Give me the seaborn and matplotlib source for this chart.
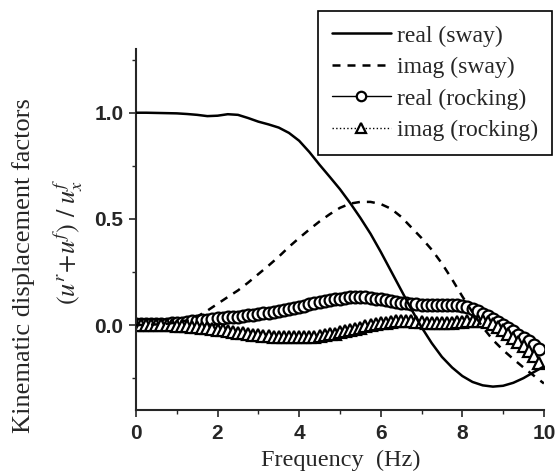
import numpy as np
import pandas as pd
import seaborn as sns
import matplotlib.pyplot as plt

# frequency grids (Hz)
freq_sway = [i * 0.25 for i in range(41)]
freq_rock = [i * 0.125 for i in range(80)]

# sway components
real_sway = [1.000, 1.000, 0.999, 0.998, 0.997, 0.994, 0.990, 0.984, 0.986, 0.993,
             0.990, 0.975, 0.958, 0.945, 0.930, 0.905, 0.868, 0.815, 0.755, 0.698,
             0.640, 0.575, 0.505, 0.430, 0.345, 0.255, 0.165, 0.075, -0.010, -0.085,
             -0.150, -0.200, -0.240, -0.268, -0.284, -0.290, -0.286, -0.272, -0.250, -0.222,
             -0.195]
imag_sway = [0.000, 0.001, 0.003, 0.006, 0.012, 0.022, 0.040, 0.068, 0.100, 0.132,
             0.163, 0.200, 0.240, 0.280, 0.322, 0.368, 0.410, 0.450, 0.488, 0.522,
             0.552, 0.572, 0.580, 0.580, 0.570, 0.548, 0.510, 0.460, 0.410, 0.355,
             0.290, 0.215, 0.135, 0.060, -0.010, -0.070, -0.118, -0.160, -0.200, -0.238,
             -0.275]

# rocking components
real_rock = [0.005, 0.005, 0.005, 0.005, 0.006, 0.006, 0.007, 0.008, 0.010, 0.012,
             0.014, 0.017, 0.020, 0.023, 0.026, 0.029, 0.032, 0.034, 0.036, 0.038,
             0.040, 0.043, 0.046, 0.049, 0.052, 0.055, 0.058, 0.062, 0.066, 0.070,
             0.075, 0.080, 0.085, 0.091, 0.097, 0.103, 0.108, 0.113, 0.118, 0.122,
             0.125, 0.128, 0.130, 0.131, 0.131, 0.130, 0.128, 0.125, 0.122, 0.118,
             0.114, 0.110, 0.106, 0.103, 0.100, 0.098, 0.096, 0.095, 0.095, 0.095,
             0.095, 0.096, 0.096, 0.095, 0.092, 0.086, 0.077, 0.066, 0.054, 0.042,
             0.030, 0.016, 0.000, -0.015, -0.030, -0.045, -0.060, -0.077, -0.095, -0.115]
imag_rock = [0.000, 0.000, 0.000, 0.000, 0.000, 0.000, -0.001, -0.002, -0.003, -0.004,
             -0.006, -0.008, -0.010, -0.013, -0.016, -0.019, -0.022, -0.025, -0.029, -0.032,
             -0.036, -0.039, -0.042, -0.045, -0.048, -0.050, -0.052, -0.054, -0.056, -0.057,
             -0.058, -0.058, -0.058, -0.057, -0.056, -0.054, -0.051, -0.048, -0.044, -0.040,
             -0.035, -0.030, -0.024, -0.018, -0.012, -0.006, -0.001, 0.004, 0.008, 0.012,
             0.015, 0.017, 0.018, 0.018, 0.017, 0.015, 0.013, 0.011, 0.010, 0.009,
             0.009, 0.010, 0.011, 0.013, 0.015, 0.018, 0.020, 0.021, 0.020, 0.015,
             0.006, -0.008, -0.025, -0.043, -0.062, -0.080, -0.098, -0.120, -0.148, -0.180]

labels = ['real (sway)', 'imag (sway)', 'real (rocking)', 'imag (rocking)']

sway = pd.DataFrame({'f': freq_sway, 'real': real_sway, 'imag': imag_sway})
rock = pd.DataFrame({'f': freq_rock, 'real': real_rock, 'imag': imag_rock})

sns.set_style('ticks')
plt.rcParams['font.family'] = ['Liberation Serif', 'DejaVu Serif']
plt.rcParams['mathtext.fontset'] = 'stix'

fig = plt.figure(figsize=(5.55, 4.76), dpi=100)
ax = fig.add_axes([0.245, 0.1387, 0.735, 0.7583])

# rocking: open markers, drawn first
sns.lineplot(data=rock, x='f', y='real', ax=ax, color='black', lw=1.0,
             marker='o', markersize=8.5, markerfacecolor='white',
             markeredgecolor='black', markeredgewidth=1.6, label=labels[2], zorder=2)
sns.lineplot(data=rock, x='f', y='imag', ax=ax, color='black', lw=1.0, linestyle=':',
             marker='^', markersize=9, markerfacecolor='white',
             markeredgecolor='black', markeredgewidth=1.6, label=labels[3], zorder=2)

# sway lines on top
sns.lineplot(data=sway, x='f', y='real', ax=ax, color='black', lw=1.8,
             label=labels[0], zorder=3)
sns.lineplot(data=sway, x='f', y='imag', ax=ax, color='black', lw=1.8,
             linestyle=(0, (3.2, 2.8)), label=labels[1], zorder=3)

ax.set_xlim(0, 10)
ax.set_ylim(-0.4, 1.3)
ax.set_xticks([0, 2, 4, 6, 8, 10])
ax.set_xticks([1, 3, 5, 7, 9], minor=True)
ax.set_yticks([0.0, 0.5, 1.0])
ax.set_yticks([-0.25, 0.25, 0.75, 1.25], minor=True)
ax.set_yticklabels(['0.0', '0.5', '1.0'])
ax.tick_params(axis='both', which='major', direction='out', length=5, width=1.2,
               labelsize=15, labelfontfamily='Liberation Sans', pad=4)
ax.tick_params(axis='x', which='major', pad=5)
ax.tick_params(axis='both', which='minor', direction='out', length=3, width=1.0)
for t in ax.get_xticklabels() + ax.get_yticklabels():
    t.set_fontweight('bold')
sns.despine(ax=ax)
for s in ['left', 'bottom']:
    ax.spines[s].set_linewidth(1.5)

ax.set_xlabel('Frequency  (Hz)', fontsize=17.5)
ax.xaxis.set_label_coords(0.503, -0.139)
ax.xaxis.label.set_verticalalignment('center')
ax.set_ylabel('')
fig.text(0.042, 0.443, 'Kinematic displacement factors', rotation=90,
         ha='center', va='center', fontsize=19)
fig.text(0.1225, 0.493, r'$(u^{r}\!+\!u^{f})\ /\ u^{f}_{x}$', rotation=90,
         ha='center', va='center', fontsize=19)

h, l = ax.get_legend_handles_labels()
order = [l.index(t) for t in labels]
ax.legend([h[i] for i in order], [l[i] for i in order],
          loc='upper right', bbox_to_anchor=(0.9946, 0.977), bbox_transform=fig.transFigure,
          borderaxespad=0, fontsize=17, frameon=True, fancybox=False, edgecolor='black',
          framealpha=1, handlelength=2.5, handletextpad=0.25, labelspacing=0.42,
          borderpad=0.6, numpoints=1, markerscale=0.8)
ax.get_legend().get_frame().set_linewidth(1.2)

fig.savefig('out.png', dpi=100)
